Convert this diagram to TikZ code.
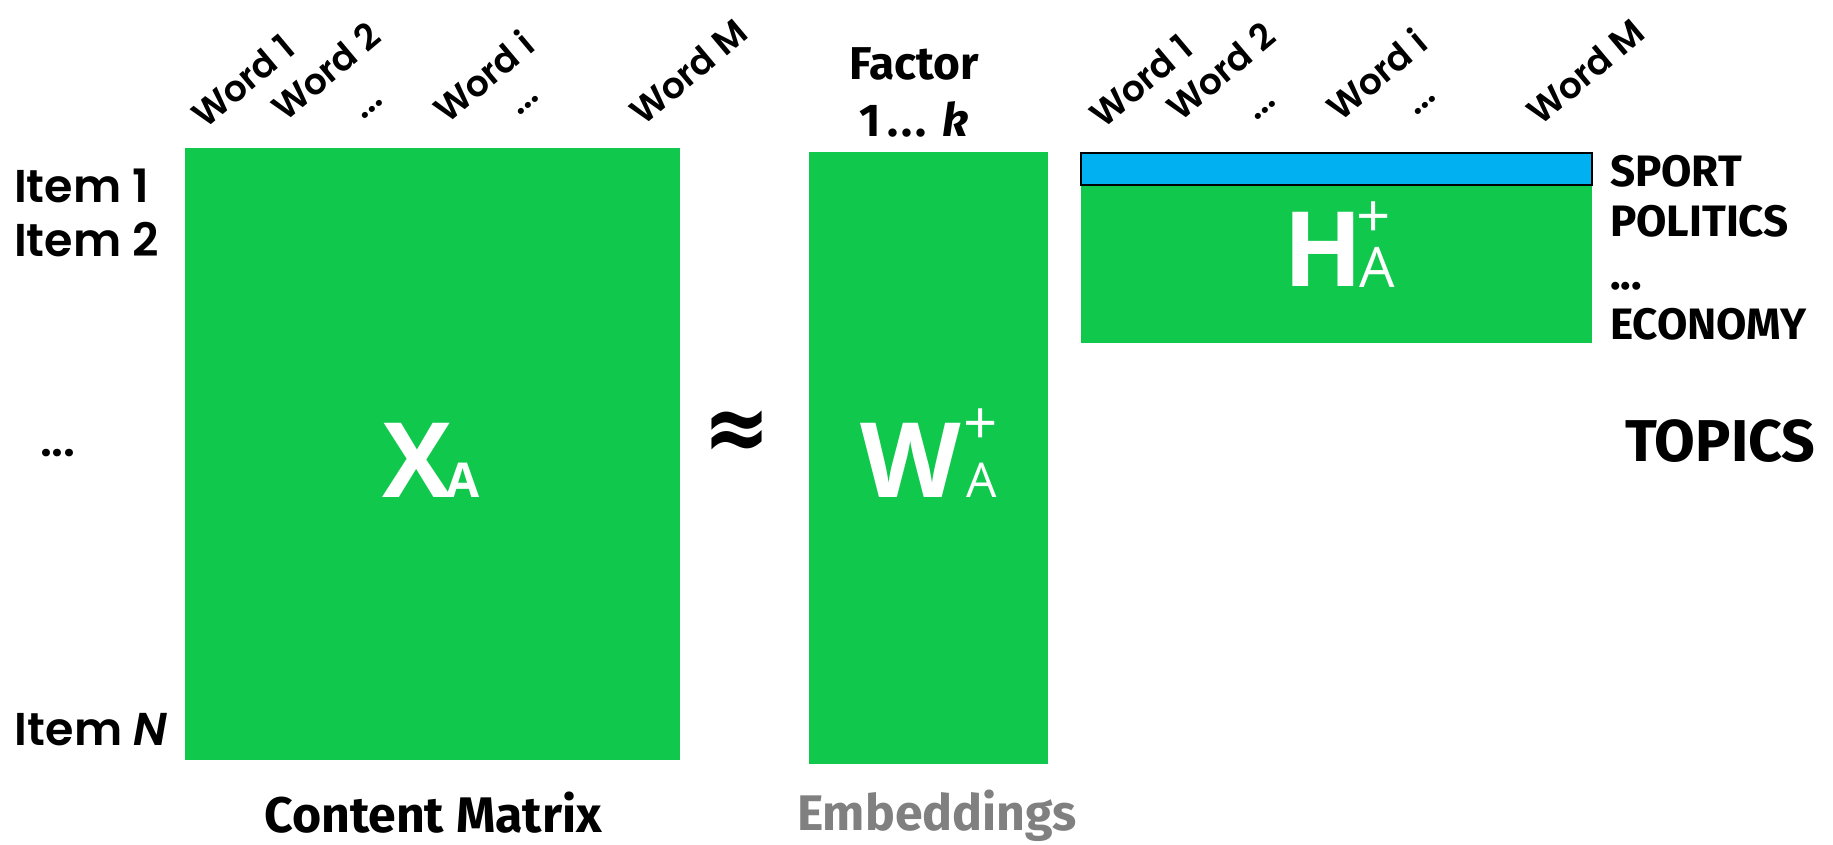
\documentclass[tikz,border=0pt]{standalone}
\usepackage{fontspec}
\setmainfont{Fira Sans}
\newfontfamily\pop{Poppins SemiBold}[ItalicFont={Poppins SemiBold Italic}]
\newfontfamily\osans{Open Sans}
\newfontfamily\dejavu{DejaVu Sans}
\definecolor{mgreen}{RGB}{16,200,76}
\definecolor{mblue}{RGB}{0,176,240}
\definecolor{mgray}{RGB}{128,128,128}
\tikzset{
  lbl/.style={inner sep=0pt, outer sep=0pt},
  word/.style={lbl, rotate=40, anchor=base west, font=\pop\fontsize{18}{20}\selectfont},
  itemlbl/.style={lbl, anchor=base west, font=\pop\fontsize{23}{27}\selectfont},
  caption/.style={lbl, anchor=base, font=\bfseries\fontsize{25}{28}\selectfont},
  header/.style={lbl, anchor=base, font=\bfseries\fontsize{23}{26}\selectfont},
  topic/.style={lbl, anchor=base west, font=\bfseries\fontsize{22}{24}\selectfont},
  bigletter/.style={lbl, anchor=base west, text=white, font=\osans\bfseries\fontsize{52}{56}\selectfont},
  subA/.style={lbl, anchor=base, text=white, font=\osans\fontsize{24}{28}\selectfont},
  supplus/.style={lbl, anchor=center, text=white, font=\osans\fontsize{30}{32}\selectfont},
  matfill/.style={fill=mgreen},
}
\begin{document}
\begin{tikzpicture}[x=0.5pt,y=-0.5pt]
\useasboundingbox (0,0) rectangle (1833,845);

% matrices
\fill[matfill] (185,148) rectangle (680,760);
\fill[matfill] (809,152) rectangle (1048,764);
\fill[matfill] (1081,185) rectangle (1592,343);
\draw[fill=mblue, line width=1.2pt] (1081,153) rectangle (1592,185);

% column words above X
\node[word] (xw1) at (205,130) {Word 1};
\node[word] (xw2) at (285,123) {Word 2};
\node[word] (xd1) at (363,121) {...};
\node[word] (xwi) at (447,125) {Word i};
\node[word] (xd2) at (519,117) {...};
\node[word] (xwm) at (643,127) {Word M};

% column words above H
\node[word] (hw1) at (1103,130) {Word 1};
\node[word] (hw2) at (1180,123) {Word 2};
\node[word] (hd1) at (1256,122) {...};
\node[word] (hwi) at (1340,123) {Word i};
\node[word] (hd2) at (1416,117) {...};
\node[word] (hwm) at (1540,127) {Word M};

% row labels
\node[itemlbl] (i1) at (14,203) {Item 1};
\node[itemlbl] (i2) at (14,257) {Item 2};
\node[itemlbl] (idots) at (40,457) {...};
\node[itemlbl] (iN) at (15,745) {Item \textit{N}};

% factor header
\node[header] (fac) at (914,80) {Factor};
\node[header] (fk) at (914,137) {1\hspace{3pt}.\hspace{1.5pt}.\hspace{1.5pt}.\hspace{8pt}\textit{k}};

% matrix letters
\node[bigletter] (X) at (382,497) {X};
\node[subA, font=\osans\bfseries\fontsize{24}{28}\selectfont] (XA) at (463,497) {A};

\node[bigletter] (W) at (860,497) {W};
\node[supplus] (Wp) at (981,427) {+};
\node[subA] (WA) at (982,497) {A};

\node[bigletter] (H) at (1283,287) {H};
\node[supplus] (Hp) at (1374,220) {+};
\node[subA, font=\osans\fontsize{28}{30}\selectfont] (HA) at (1377,288) {A};

% approx sign
\node[lbl, anchor=center, font=\dejavu\bfseries\fontsize{40}{44}\selectfont] (approx) at (737,436) {\scalebox{1}[1.2]{≈}};

% topics
\node[topic] (sport) at (1610,187) {SPORT};
\node[topic] (pol) at (1610,237) {POLITICS};
\node[topic] (tdots) at (1610,290) {...};
\node[topic] (eco) at (1610,340) {ECONOMY};
\node[lbl, anchor=base west, font=\bfseries\fontsize{29.5}{34}\selectfont] (topics) at (1625,462) {TOPICS};

% captions
\node[caption] (cm) at (433,832) {Content Matrix};
\node[caption, text=mgray] (emb) at (937,830) {Embeddings};
\end{tikzpicture}
\end{document}
